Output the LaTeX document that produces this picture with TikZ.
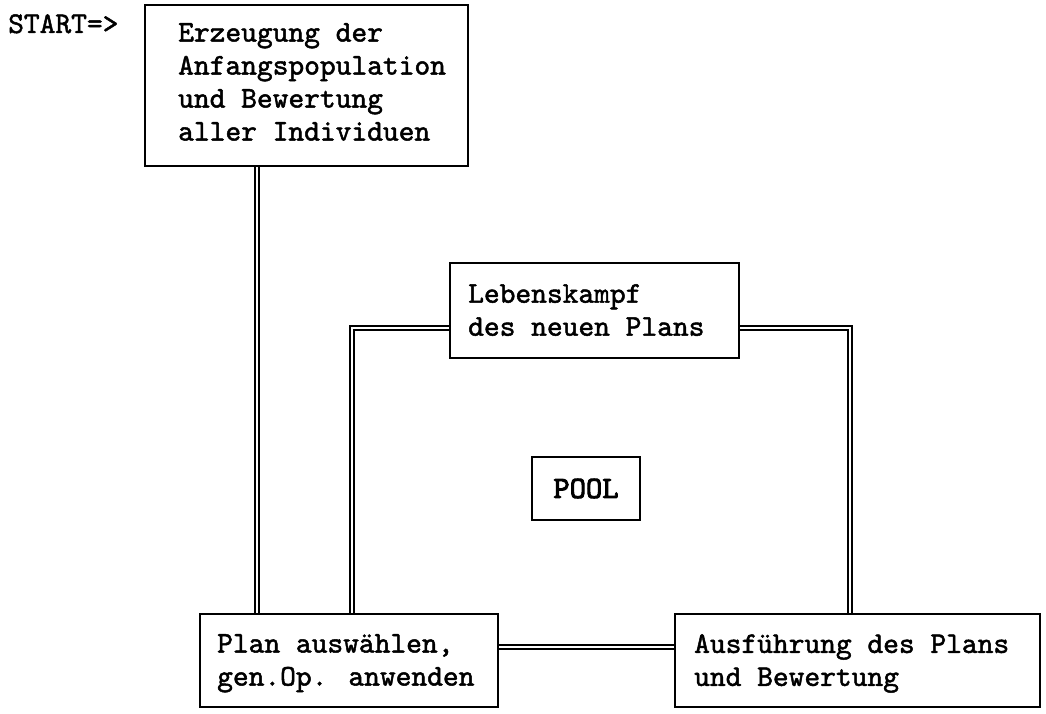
\documentclass[tikz,border=0pt]{standalone}
\usepackage{fontspec}
\newfontfamily\twfont{lmmono10-regular.otf}[FakeBold=1.6]
\newfontfamily\twfontb{lmmono10-regular.otf}[FakeBold=3]
\tikzset{
  boxed/.style={draw, line width=2.2pt, fill=white, rectangle, inner sep=0pt},
  txt/.style={font=\twfont\fontsize{30}{33}\selectfont, align=left, inner sep=0pt, anchor=north west},
  dbl/.style={draw, double, line width=2pt, double distance=1.8pt}
}
\begin{document}
\begin{tikzpicture}[x=1pt,y=-1pt]
\useasboundingbox (0,0) rectangle (1046,714);
% boxes
\node[boxed, minimum width=323pt, minimum height=161pt] (erz) at (306.5,85.5) {};
\node[boxed, minimum width=289pt, minimum height=95pt] (leb) at (594.5,310.5) {};
\node[boxed, minimum width=298pt, minimum height=93pt] (plan) at (349,660.5) {};
\node[boxed, minimum width=365pt, minimum height=93pt] (aus) at (857.5,660.5) {};
\node[boxed, minimum width=108pt, minimum height=63pt] (pool) at (586,488.5) {};
% texts
\node[txt, anchor=base west] (start) at (8,33) {START=>};
\node[txt] (erzt) at (178,23) {Erzeugung der\\Anfangspopulation\\und Bewertung\\aller Individuen};
\node[txt] (lebt) at (468,284) {Lebenskampf\\des neuen Plans};
\node[txt] (plant) at (217,634) {Plan auswählen,\\gen.Op. anwenden};
\node[txt] (aust) at (694,634) {Ausführung des Plans\\und Bewertung};
\node[txt, font=\twfontb\fontsize{31}{33}\selectfont, anchor=center] (poolt) at (pool.center) {POOL};
% connectors
\draw[dbl] ([xshift=113pt]erz.south west) -- ([xshift=58pt]plan.north west);
\draw[dbl] ([yshift=-17.5pt]leb.west) -| ([xshift=153pt]plan.north west);
\draw[dbl] ([yshift=-17.5pt]leb.east) -| ([xshift=176pt]aus.north west);
\draw[dbl] ([yshift=13.5pt]plan.east) -- ([yshift=13.5pt]aus.west);
\end{tikzpicture}
\end{document}
